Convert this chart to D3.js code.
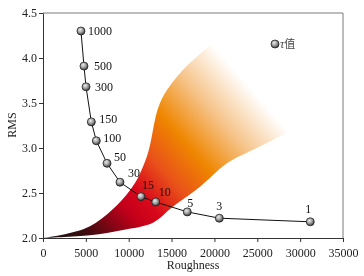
<!DOCTYPE html>
<html>
<head>
<meta charset="utf-8">
<script src="https://cdn.jsdelivr.net/npm/d3@7"></script>
<style>
  body { margin: 0; background: #fff; }
  svg { will-change: transform; }
  text { font-family: "Liberation Serif", "DejaVu Serif", serif; }
</style>
</head>
<body>
<div id="chart"></div>
<script>
// tau values and their (Roughness, RMS) positions
const tauLabels = [1000, 500, 300, 150, 100, 50, 30, 15, 10, 5, 3, 1]
const roughness = [4430, 4780, 5020, 5640, 6220, 7470, 8980, 11430, 13150, 16830, 20570, 31180]
const rms = [4.30, 3.91, 3.68, 3.29, 3.08, 2.83, 2.62, 2.46, 2.40, 2.29, 2.22, 2.18]

// shaded band outline: upper edge (origin -> peak), lower edge (right end -> origin)
const bandUpperRough = [0, 5480, 10150, 12100, 13650, 15980, 19830]
const bandUpperRms = [2.0, 2.13, 2.53, 2.90, 3.50, 3.83, 4.17]
const bandLowerRough = [29980, 24500, 21470, 18320, 15170, 12830, 9330, 5480, 0]
const bandLowerRms = [3.24, 2.98, 2.83, 2.57, 2.35, 2.17, 2.09, 2.03, 2.0]

const xTicks = [0, 5000, 10000, 15000, 20000, 25000, 30000, 35000]
const yTicks = [2.0, 2.5, 3.0, 3.5, 4.0, 4.5]

const W = 364, H = 276
const MARGIN = { TOP: 13, BOTTOM: 38, LEFT: 43, RIGHT: 21 }
const WIDTH = W - MARGIN.LEFT - MARGIN.RIGHT
const HEIGHT = H - MARGIN.TOP - MARGIN.BOTTOM

const svg = d3.select("#chart").append("svg")
    .attr("width", W)
    .attr("height", H)

const defs = svg.append("defs")

const g = svg.append("g")
    .attr("transform", `translate(${MARGIN.LEFT}, ${MARGIN.TOP})`)

const x = d3.scaleLinear().domain([0, 35000]).range([0, WIDTH])
const y = d3.scaleLinear().domain([2.0, 4.5]).range([HEIGHT, 0])

// band gradient
const grad = defs.append("linearGradient")
    .attr("id", "bandGrad")
    .attr("gradientUnits", "userSpaceOnUse")
    .attr("x1", 12).attr("y1", 232)
    .attr("x2", 207).attr("y2", 62)
grad.selectAll("stop")
    .data([
        [0, "#1a1414"], [0.12, "#3a0c10"], [0.3, "#c4001a"], [0.38, "#d8081a"],
        [0.5, "#e9501a"], [0.64, "#ef8600"], [0.8, "#f6c48a"], [0.97, "#ffffff"]
    ])
    .enter().append("stop")
    .attr("offset", d => d[0])
    .attr("stop-color", d => d[1])

const curveLine = d3.line()
    .x(d => x(d[0]))
    .y(d => y(d[1]))
    .curve(d3.curveCatmullRom.alpha(0.5))

const upper = bandUpperRough.map((r, i) => [r, bandUpperRms[i]])
const lower = bandLowerRough.map((r, i) => [r, bandLowerRms[i]])
// upper edge, straight fade edge to the right end, lower edge back to origin
const bandPath = curveLine(upper) + "L" + curveLine(lower).slice(1) + "Z"

g.append("path")
    .attr("d", bandPath)
    .attr("fill", "url(#bandGrad)")

// frame
g.append("path")
    .attr("d", `M0,0H${WIDTH}V${HEIGHT}`)
    .attr("fill", "none")
    .attr("stroke", "#7a7a7a")
    .attr("stroke-width", 1)

// axes
const xAxis = g.append("g")
    .attr("transform", `translate(0, ${HEIGHT})`)
    .call(d3.axisBottom(x).tickValues(xTicks).tickFormat(d3.format("d")).tickSize(4).tickSizeOuter(0))
const yAxis = g.append("g")
    .call(d3.axisLeft(y).tickValues(yTicks).tickFormat(d3.format(".1f")).tickSize(4).tickSizeOuter(0))

;[xAxis, yAxis].forEach(a => {
    a.select(".domain").attr("stroke", "#333")
    a.selectAll(".tick line").attr("stroke", "#333")
    a.selectAll(".tick text")
        .attr("font-family", "Liberation Serif, serif")
        .attr("font-size", 12)
        .attr("fill", "#222")
})
xAxis.selectAll(".tick text").attr("dy", "1.0em")
yAxis.selectAll(".tick text").attr("x", -6)

// axis titles
svg.append("text")
    .attr("x", 193).attr("y", 269)
    .attr("text-anchor", "middle")
    .attr("font-size", 12)
    .attr("fill", "#222")
    .text("Roughness")
svg.append("text")
    .attr("transform", "translate(16, 125) rotate(-90)")
    .attr("text-anchor", "middle")
    .attr("font-size", 12)
    .attr("fill", "#222")
    .text("RMS")

// sphere markers
const sphere = defs.append("radialGradient")
    .attr("id", "sphere")
    .attr("cx", "40%").attr("cy", "35%").attr("r", "65%")
sphere.append("stop").attr("offset", 0).attr("stop-color", "#eeeeee")
sphere.append("stop").attr("offset", 0.55).attr("stop-color", "#9a9a9a")
sphere.append("stop").attr("offset", 1).attr("stop-color", "#3a3a3a")

const pts = tauLabels.map((t, i) => ({ tau: t, r: roughness[i], v: rms[i] }))

g.append("path")
    .datum(pts)
    .attr("d", d3.line().x(d => x(d.r)).y(d => y(d.v)))
    .attr("fill", "none")
    .attr("stroke", "#111")
    .attr("stroke-width", 1)

g.selectAll(".pt")
    .data(pts)
    .enter().append("circle")
    .attr("class", "pt")
    .attr("cx", d => x(d.r))
    .attr("cy", d => y(d.v))
    .attr("r", 4)
    .attr("fill", "url(#sphere)")
    .attr("stroke", "#222")
    .attr("stroke-width", 0.8)

// label placement: big tau to the right, small tau above
const labelOffset = {
    1000: [7, 0, "start"], 500: [10, 0, "start"], 300: [9, 0, "start"],
    150: [8, -3, "start"], 100: [7, -3, "start"], 50: [7, -7, "start"],
    30: [8, -9, "start"], 15: [1, -12, "start"], 10: [3, -10, "start"],
    5: [3, -9, "middle"], 3: [0, -12, "middle"], 1: [-2, -13, "middle"]
}
g.selectAll(".lbl")
    .data(pts)
    .enter().append("text")
    .attr("class", "lbl")
    .attr("x", d => x(d.r) + labelOffset[d.tau][0])
    .attr("y", d => y(d.v) + labelOffset[d.tau][1])
    .attr("dy", "0.35em")
    .attr("text-anchor", d => labelOffset[d.tau][2])
    .attr("font-size", 12)
    .attr("fill", "#111")
    .text(d => d.tau)

// legend
const leg = svg.append("g").attr("transform", "translate(275, 44)")
leg.append("circle")
    .attr("r", 4)
    .attr("fill", "url(#sphere)")
    .attr("stroke", "#222")
    .attr("stroke-width", 0.8)
const lt = leg.append("text")
    .attr("x", 5).attr("dy", "0.35em")
    .attr("font-size", 12)
    .attr("fill", "#444")
lt.append("tspan").attr("font-style", "italic").text("τ")
lt.append("tspan").attr("font-family", "Noto Sans CJK SC").attr("font-size", 11).text("值")
</script>
</body>
</html>
